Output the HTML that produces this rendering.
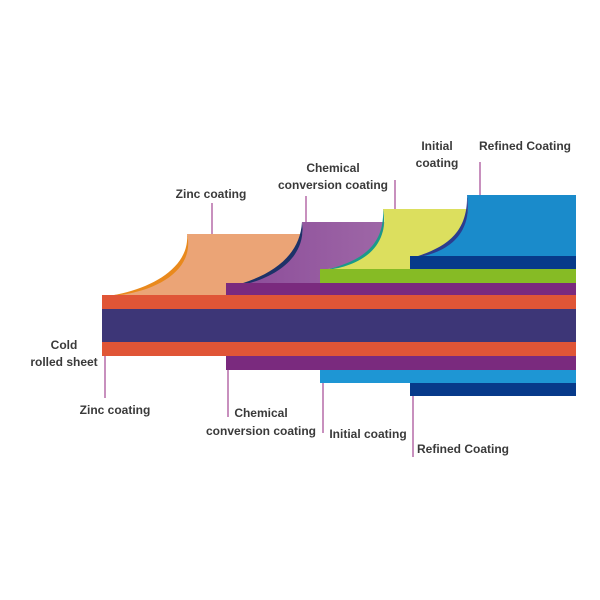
<!DOCTYPE html>
<html><head><style>
html,body{margin:0;padding:0;background:#fff;width:600px;height:600px;overflow:hidden}
text{font-family:"Liberation Sans",sans-serif;font-size:12px;fill:#3a3a3a;font-weight:bold}
</style></head><body>
<svg width="600" height="600" xmlns="http://www.w3.org/2000/svg">
<defs>
<linearGradient id="gp" x1="0" x2="1"><stop offset="0" stop-color="#8a4a98"/><stop offset="1" stop-color="#a06aa8"/></linearGradient>
</defs>
<!-- zinc curved -->
<path d="M187,234 L320,234 L320,296 L105,296 C150,292 195,272 187,234 Z" fill="#eba476"/>
<path d="M187,234 C196,272 152,294 108,296 C150,290 190,268 187,234 Z" fill="#e9891c"/>
<!-- purple curved -->
<path d="M302,222 L400,222 L400,283 L226,283 L226,287 C260,282 308,262 302,222 Z" fill="url(#gp)"/>
<path d="M302,222 C308,264 262,284 228,287 C268,278 300,258 302,222 Z" fill="#1d3268"/>
<!-- yellow curved -->
<path d="M383,209 L480,209 L480,269 L322,269 L322,270 C350,266 392,252 383,209 Z" fill="#dcdf5e"/>
<path d="M383,209 C391,254 350,268 325,270 C358,262 385,248 383,209 Z" fill="#1a9a8a"/>
<!-- blue curved -->
<path d="M467,195 L576,195 L576,256 L410,256 L410,258 C440,252 474,238 467,195 Z" fill="#1a8bcb"/>
<path d="M467,195 C474,240 440,255 412,258 C445,248 468,234 467,195 Z" fill="#2b3d8f"/>
<!-- layers -->
<rect x="410" y="256" width="166" height="13" fill="#073a8a"/>
<rect x="320" y="269" width="256" height="14" fill="#86bb25"/>
<rect x="226" y="283" width="350" height="13" fill="#7a2a7e"/>
<rect x="102" y="295" width="474" height="14" fill="#e05536"/>
<rect x="102" y="309" width="474" height="33" fill="#3d3677"/>
<rect x="102" y="342" width="474" height="14" fill="#e05536"/>
<rect x="226" y="356" width="350" height="14" fill="#7a2a7e"/>
<rect x="320" y="370" width="256" height="13" fill="#1e96d4"/>
<rect x="410" y="383" width="166" height="13" fill="#073a8a"/>
<!-- leaders -->
<g stroke="#b56aa8" stroke-width="1.5">
<line x1="212" y1="203" x2="212" y2="234"/>
<line x1="306" y1="196" x2="306" y2="222"/>
<line x1="395" y1="180" x2="395" y2="209"/>
<line x1="480" y1="162" x2="480" y2="195"/>
<line x1="105" y1="356" x2="105" y2="398"/>
<line x1="228" y1="370" x2="228" y2="417"/>
<line x1="323" y1="383" x2="323" y2="433"/>
<line x1="413" y1="396" x2="413" y2="457"/>
</g>
<!-- labels -->
<text x="211" y="198" text-anchor="middle">Zinc coating</text>
<text x="333" y="172" text-anchor="middle">Chemical</text>
<text x="333" y="189" text-anchor="middle">conversion coating</text>
<text x="437" y="150" text-anchor="middle">Initial</text>
<text x="437" y="167" text-anchor="middle">coating</text>
<text x="525" y="150" text-anchor="middle">Refined Coating</text>
<text x="64" y="349" text-anchor="middle">Cold</text>
<text x="64" y="366" text-anchor="middle">rolled sheet</text>
<text x="115" y="414" text-anchor="middle">Zinc coating</text>
<text x="261" y="417" text-anchor="middle">Chemical</text>
<text x="261" y="435" text-anchor="middle">conversion coating</text>
<text x="368" y="438" text-anchor="middle">Initial coating</text>
<text x="463" y="453" text-anchor="middle">Refined Coating</text>
</svg>
</body></html>
